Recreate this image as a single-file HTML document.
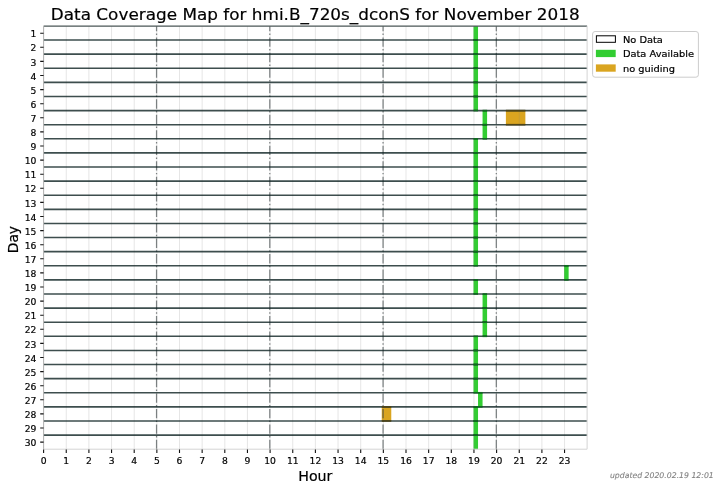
<!DOCTYPE html><html><head><meta charset="utf-8"><title>Data Coverage Map</title><style>html,body{margin:0;padding:0;background:#fff;width:721px;height:490px;overflow:hidden}svg{display:block;filter:blur(0.25px)}text{font-family:"DejaVu Sans","Liberation Sans",sans-serif;fill:#000;stroke:#000;stroke-width:0.2px}</style></head><body>
<svg width="721" height="490" viewBox="0 0 721 490">
<rect width="721" height="490" fill="#fff"/>
<rect x="473.50" y="26.15" width="4.53" height="13.88" fill="#32cd32"/>
<rect x="473.50" y="40.03" width="4.53" height="14.11" fill="#32cd32"/>
<rect x="473.50" y="54.14" width="4.53" height="14.11" fill="#32cd32"/>
<rect x="473.50" y="68.25" width="4.53" height="14.11" fill="#32cd32"/>
<rect x="473.50" y="82.36" width="4.53" height="14.11" fill="#32cd32"/>
<rect x="473.50" y="96.47" width="4.53" height="14.11" fill="#32cd32"/>
<rect x="482.56" y="110.58" width="4.53" height="14.11" fill="#32cd32"/>
<rect x="482.56" y="124.69" width="4.53" height="14.11" fill="#32cd32"/>
<rect x="473.50" y="138.80" width="4.53" height="14.11" fill="#32cd32"/>
<rect x="473.50" y="152.91" width="4.53" height="14.11" fill="#32cd32"/>
<rect x="473.50" y="167.01" width="4.53" height="14.11" fill="#32cd32"/>
<rect x="473.50" y="181.12" width="4.53" height="14.11" fill="#32cd32"/>
<rect x="473.50" y="195.23" width="4.53" height="14.11" fill="#32cd32"/>
<rect x="473.50" y="209.34" width="4.53" height="14.11" fill="#32cd32"/>
<rect x="473.50" y="223.45" width="4.53" height="14.11" fill="#32cd32"/>
<rect x="473.50" y="237.56" width="4.53" height="14.11" fill="#32cd32"/>
<rect x="473.50" y="251.67" width="4.53" height="14.11" fill="#32cd32"/>
<rect x="564.10" y="265.78" width="4.53" height="14.11" fill="#32cd32"/>
<rect x="473.50" y="279.89" width="4.53" height="14.11" fill="#32cd32"/>
<rect x="482.56" y="294.00" width="4.53" height="14.11" fill="#32cd32"/>
<rect x="482.56" y="308.10" width="4.53" height="14.11" fill="#32cd32"/>
<rect x="482.56" y="322.21" width="4.53" height="14.11" fill="#32cd32"/>
<rect x="473.50" y="336.32" width="4.53" height="14.11" fill="#32cd32"/>
<rect x="473.50" y="350.43" width="4.53" height="14.11" fill="#32cd32"/>
<rect x="473.50" y="364.54" width="4.53" height="14.11" fill="#32cd32"/>
<rect x="473.50" y="378.65" width="4.53" height="14.11" fill="#32cd32"/>
<rect x="478.03" y="392.76" width="4.53" height="14.11" fill="#32cd32"/>
<rect x="473.50" y="406.87" width="4.53" height="14.11" fill="#32cd32"/>
<rect x="473.50" y="420.98" width="4.53" height="14.11" fill="#32cd32"/>
<rect x="473.50" y="435.09" width="4.53" height="14.11" fill="#32cd32"/>
<rect x="505.89" y="110.58" width="19.48" height="14.11" fill="#daa520"/>
<rect x="381.76" y="406.87" width="9.51" height="14.11" fill="#daa520"/>
<path d="M43.60 26.15V449.20M66.25 26.15V449.20M88.90 26.15V449.20M111.55 26.15V449.20M134.20 26.15V449.20M156.85 26.15V449.20M179.50 26.15V449.20M202.15 26.15V449.20M224.80 26.15V449.20M247.45 26.15V449.20M270.10 26.15V449.20M292.75 26.15V449.20M315.40 26.15V449.20M338.05 26.15V449.20M360.70 26.15V449.20M383.35 26.15V449.20M406.00 26.15V449.20M428.65 26.15V449.20M451.30 26.15V449.20M473.95 26.15V449.20M496.60 26.15V449.20M519.25 26.15V449.20M541.90 26.15V449.20M564.55 26.15V449.20" stroke="#808080" stroke-opacity="0.2" stroke-width="1" fill="none"/>
<path d="M156.55 449.20V26.15M269.80 449.20V26.15M383.05 449.20V26.15M496.30 449.20V26.15" stroke="#343c3e" stroke-opacity="0.62" stroke-width="1.25" stroke-dasharray="9.34 2.34 1.46 2.34" fill="none"/>
<path d="M43.60 40.03H587.10M43.60 54.14H587.10M43.60 68.25H587.10M43.60 82.36H587.10M43.60 96.47H587.10M43.60 110.58H587.10M43.60 124.69H587.10M43.60 138.80H587.10M43.60 152.91H587.10M43.60 167.01H587.10M43.60 181.12H587.10M43.60 195.23H587.10M43.60 209.34H587.10M43.60 223.45H587.10M43.60 237.56H587.10M43.60 251.67H587.10M43.60 265.78H587.10M43.60 279.89H587.10M43.60 294.00H587.10M43.60 308.10H587.10M43.60 322.21H587.10M43.60 336.32H587.10M43.60 350.43H587.10M43.60 364.54H587.10M43.60 378.65H587.10M43.60 392.76H587.10M43.60 406.87H587.10M43.60 420.98H587.10M43.60 435.09H587.10" stroke="#0c2222" stroke-opacity="0.8" stroke-width="1.6" fill="none"/>
<path d="M43.60 26.15H587.10" stroke="#4a5656" stroke-width="1.4" fill="none"/>
<rect x="473.50" y="39.23" width="4.53" height="1.6" fill="#0e6a1e"/>
<rect x="473.50" y="39.23" width="4.53" height="1.6" fill="#0e6a1e"/>
<rect x="473.50" y="53.34" width="4.53" height="1.6" fill="#0e6a1e"/>
<rect x="473.50" y="53.34" width="4.53" height="1.6" fill="#0e6a1e"/>
<rect x="473.50" y="67.45" width="4.53" height="1.6" fill="#0e6a1e"/>
<rect x="473.50" y="67.45" width="4.53" height="1.6" fill="#0e6a1e"/>
<rect x="473.50" y="81.56" width="4.53" height="1.6" fill="#0e6a1e"/>
<rect x="473.50" y="81.56" width="4.53" height="1.6" fill="#0e6a1e"/>
<rect x="473.50" y="95.67" width="4.53" height="1.6" fill="#0e6a1e"/>
<rect x="473.50" y="95.67" width="4.53" height="1.6" fill="#0e6a1e"/>
<rect x="473.50" y="109.78" width="4.53" height="1.6" fill="#0e6a1e"/>
<rect x="482.56" y="109.78" width="4.53" height="1.6" fill="#0e6a1e"/>
<rect x="482.56" y="123.89" width="4.53" height="1.6" fill="#0e6a1e"/>
<rect x="482.56" y="123.89" width="4.53" height="1.6" fill="#0e6a1e"/>
<rect x="482.56" y="138.00" width="4.53" height="1.6" fill="#0e6a1e"/>
<rect x="473.50" y="138.00" width="4.53" height="1.6" fill="#0e6a1e"/>
<rect x="473.50" y="152.11" width="4.53" height="1.6" fill="#0e6a1e"/>
<rect x="473.50" y="152.11" width="4.53" height="1.6" fill="#0e6a1e"/>
<rect x="473.50" y="166.21" width="4.53" height="1.6" fill="#0e6a1e"/>
<rect x="473.50" y="166.21" width="4.53" height="1.6" fill="#0e6a1e"/>
<rect x="473.50" y="180.32" width="4.53" height="1.6" fill="#0e6a1e"/>
<rect x="473.50" y="180.32" width="4.53" height="1.6" fill="#0e6a1e"/>
<rect x="473.50" y="194.43" width="4.53" height="1.6" fill="#0e6a1e"/>
<rect x="473.50" y="194.43" width="4.53" height="1.6" fill="#0e6a1e"/>
<rect x="473.50" y="208.54" width="4.53" height="1.6" fill="#0e6a1e"/>
<rect x="473.50" y="208.54" width="4.53" height="1.6" fill="#0e6a1e"/>
<rect x="473.50" y="222.65" width="4.53" height="1.6" fill="#0e6a1e"/>
<rect x="473.50" y="222.65" width="4.53" height="1.6" fill="#0e6a1e"/>
<rect x="473.50" y="236.76" width="4.53" height="1.6" fill="#0e6a1e"/>
<rect x="473.50" y="236.76" width="4.53" height="1.6" fill="#0e6a1e"/>
<rect x="473.50" y="250.87" width="4.53" height="1.6" fill="#0e6a1e"/>
<rect x="473.50" y="250.87" width="4.53" height="1.6" fill="#0e6a1e"/>
<rect x="473.50" y="264.98" width="4.53" height="1.6" fill="#0e6a1e"/>
<rect x="564.10" y="264.98" width="4.53" height="1.6" fill="#0e6a1e"/>
<rect x="564.10" y="279.09" width="4.53" height="1.6" fill="#0e6a1e"/>
<rect x="473.50" y="279.09" width="4.53" height="1.6" fill="#0e6a1e"/>
<rect x="473.50" y="293.20" width="4.53" height="1.6" fill="#0e6a1e"/>
<rect x="482.56" y="293.20" width="4.53" height="1.6" fill="#0e6a1e"/>
<rect x="482.56" y="307.30" width="4.53" height="1.6" fill="#0e6a1e"/>
<rect x="482.56" y="307.30" width="4.53" height="1.6" fill="#0e6a1e"/>
<rect x="482.56" y="321.41" width="4.53" height="1.6" fill="#0e6a1e"/>
<rect x="482.56" y="321.41" width="4.53" height="1.6" fill="#0e6a1e"/>
<rect x="482.56" y="335.52" width="4.53" height="1.6" fill="#0e6a1e"/>
<rect x="473.50" y="335.52" width="4.53" height="1.6" fill="#0e6a1e"/>
<rect x="473.50" y="349.63" width="4.53" height="1.6" fill="#0e6a1e"/>
<rect x="473.50" y="349.63" width="4.53" height="1.6" fill="#0e6a1e"/>
<rect x="473.50" y="363.74" width="4.53" height="1.6" fill="#0e6a1e"/>
<rect x="473.50" y="363.74" width="4.53" height="1.6" fill="#0e6a1e"/>
<rect x="473.50" y="377.85" width="4.53" height="1.6" fill="#0e6a1e"/>
<rect x="473.50" y="377.85" width="4.53" height="1.6" fill="#0e6a1e"/>
<rect x="473.50" y="391.96" width="4.53" height="1.6" fill="#0e6a1e"/>
<rect x="478.03" y="391.96" width="4.53" height="1.6" fill="#0e6a1e"/>
<rect x="478.03" y="406.07" width="4.53" height="1.6" fill="#0e6a1e"/>
<rect x="473.50" y="406.07" width="4.53" height="1.6" fill="#0e6a1e"/>
<rect x="473.50" y="420.18" width="4.53" height="1.6" fill="#0e6a1e"/>
<rect x="473.50" y="420.18" width="4.53" height="1.6" fill="#0e6a1e"/>
<rect x="473.50" y="434.29" width="4.53" height="1.6" fill="#0e6a1e"/>
<rect x="473.50" y="434.29" width="4.53" height="1.6" fill="#0e6a1e"/>
<rect x="505.89" y="109.78" width="19.48" height="1.6" fill="#4e4418"/>
<rect x="505.89" y="123.89" width="19.48" height="1.6" fill="#4e4418"/>
<rect x="381.76" y="406.07" width="9.51" height="1.6" fill="#4e4418"/>
<rect x="381.76" y="420.18" width="9.51" height="1.6" fill="#4e4418"/>
<path d="M43.60 26.15V449.20" stroke="#b2b2b2" stroke-width="1" fill="none"/>
<path d="M43.60 449.20H587.10V26.15" stroke="#d4d4d4" stroke-width="1" fill="none"/>
<path d="M40.20 33.20H43.60M40.20 47.30H43.60M40.20 61.40H43.60M40.20 75.50H43.60M40.20 89.60H43.60M40.20 103.70H43.60M40.20 117.80H43.60M40.20 131.90H43.60M40.20 146.00H43.60M40.20 160.10H43.60M40.20 174.20H43.60M40.20 188.30H43.60M40.20 202.40H43.60M40.20 216.50H43.60M40.20 230.60H43.60M40.20 244.70H43.60M40.20 258.80H43.60M40.20 272.90H43.60M40.20 287.00H43.60M40.20 301.10H43.60M40.20 315.20H43.60M40.20 329.30H43.60M40.20 343.40H43.60M40.20 357.50H43.60M40.20 371.60H43.60M40.20 385.70H43.60M40.20 399.80H43.60M40.20 413.90H43.60M40.20 428.00H43.60M40.20 442.10H43.60M43.60 449.50V452.90M66.25 449.50V452.90M88.90 449.50V452.90M111.55 449.50V452.90M134.20 449.50V452.90M156.85 449.50V452.90M179.50 449.50V452.90M202.15 449.50V452.90M224.80 449.50V452.90M247.45 449.50V452.90M270.10 449.50V452.90M292.75 449.50V452.90M315.40 449.50V452.90M338.05 449.50V452.90M360.70 449.50V452.90M383.35 449.50V452.90M406.00 449.50V452.90M428.65 449.50V452.90M451.30 449.50V452.90M473.95 449.50V452.90M496.60 449.50V452.90M519.25 449.50V452.90M541.90 449.50V452.90M564.55 449.50V452.90" stroke="#111" stroke-width="1.1" fill="none"/>
<text transform="translate(36.40 37.35) scale(1 0.87)" font-size="9.2" text-anchor="end">1</text>
<text transform="translate(36.40 51.45) scale(1 0.87)" font-size="9.2" text-anchor="end">2</text>
<text transform="translate(36.40 65.55) scale(1 0.87)" font-size="9.2" text-anchor="end">3</text>
<text transform="translate(36.40 79.65) scale(1 0.87)" font-size="9.2" text-anchor="end">4</text>
<text transform="translate(36.40 93.75) scale(1 0.87)" font-size="9.2" text-anchor="end">5</text>
<text transform="translate(36.40 107.85) scale(1 0.87)" font-size="9.2" text-anchor="end">6</text>
<text transform="translate(36.40 121.95) scale(1 0.87)" font-size="9.2" text-anchor="end">7</text>
<text transform="translate(36.40 136.05) scale(1 0.87)" font-size="9.2" text-anchor="end">8</text>
<text transform="translate(36.40 150.15) scale(1 0.87)" font-size="9.2" text-anchor="end">9</text>
<text transform="translate(36.40 164.25) scale(1 0.87)" font-size="9.2" text-anchor="end">10</text>
<text transform="translate(36.40 178.35) scale(1 0.87)" font-size="9.2" text-anchor="end">11</text>
<text transform="translate(36.40 192.45) scale(1 0.87)" font-size="9.2" text-anchor="end">12</text>
<text transform="translate(36.40 206.55) scale(1 0.87)" font-size="9.2" text-anchor="end">13</text>
<text transform="translate(36.40 220.65) scale(1 0.87)" font-size="9.2" text-anchor="end">14</text>
<text transform="translate(36.40 234.75) scale(1 0.87)" font-size="9.2" text-anchor="end">15</text>
<text transform="translate(36.40 248.85) scale(1 0.87)" font-size="9.2" text-anchor="end">16</text>
<text transform="translate(36.40 262.95) scale(1 0.87)" font-size="9.2" text-anchor="end">17</text>
<text transform="translate(36.40 277.05) scale(1 0.87)" font-size="9.2" text-anchor="end">18</text>
<text transform="translate(36.40 291.15) scale(1 0.87)" font-size="9.2" text-anchor="end">19</text>
<text transform="translate(36.40 305.25) scale(1 0.87)" font-size="9.2" text-anchor="end">20</text>
<text transform="translate(36.40 319.35) scale(1 0.87)" font-size="9.2" text-anchor="end">21</text>
<text transform="translate(36.40 333.45) scale(1 0.87)" font-size="9.2" text-anchor="end">22</text>
<text transform="translate(36.40 347.55) scale(1 0.87)" font-size="9.2" text-anchor="end">23</text>
<text transform="translate(36.40 361.65) scale(1 0.87)" font-size="9.2" text-anchor="end">24</text>
<text transform="translate(36.40 375.75) scale(1 0.87)" font-size="9.2" text-anchor="end">25</text>
<text transform="translate(36.40 389.85) scale(1 0.87)" font-size="9.2" text-anchor="end">26</text>
<text transform="translate(36.40 403.95) scale(1 0.87)" font-size="9.2" text-anchor="end">27</text>
<text transform="translate(36.40 418.05) scale(1 0.87)" font-size="9.2" text-anchor="end">28</text>
<text transform="translate(36.40 432.15) scale(1 0.87)" font-size="9.2" text-anchor="end">29</text>
<text transform="translate(36.40 446.25) scale(1 0.87)" font-size="9.2" text-anchor="end">30</text>
<text transform="translate(43.60 463.80) scale(1 0.87)" font-size="9.2" text-anchor="middle">0</text>
<text transform="translate(66.25 463.80) scale(1 0.87)" font-size="9.2" text-anchor="middle">1</text>
<text transform="translate(88.90 463.80) scale(1 0.87)" font-size="9.2" text-anchor="middle">2</text>
<text transform="translate(111.55 463.80) scale(1 0.87)" font-size="9.2" text-anchor="middle">3</text>
<text transform="translate(134.20 463.80) scale(1 0.87)" font-size="9.2" text-anchor="middle">4</text>
<text transform="translate(156.85 463.80) scale(1 0.87)" font-size="9.2" text-anchor="middle">5</text>
<text transform="translate(179.50 463.80) scale(1 0.87)" font-size="9.2" text-anchor="middle">6</text>
<text transform="translate(202.15 463.80) scale(1 0.87)" font-size="9.2" text-anchor="middle">7</text>
<text transform="translate(224.80 463.80) scale(1 0.87)" font-size="9.2" text-anchor="middle">8</text>
<text transform="translate(247.45 463.80) scale(1 0.87)" font-size="9.2" text-anchor="middle">9</text>
<text transform="translate(270.10 463.80) scale(1 0.87)" font-size="9.2" text-anchor="middle">10</text>
<text transform="translate(292.75 463.80) scale(1 0.87)" font-size="9.2" text-anchor="middle">11</text>
<text transform="translate(315.40 463.80) scale(1 0.87)" font-size="9.2" text-anchor="middle">12</text>
<text transform="translate(338.05 463.80) scale(1 0.87)" font-size="9.2" text-anchor="middle">13</text>
<text transform="translate(360.70 463.80) scale(1 0.87)" font-size="9.2" text-anchor="middle">14</text>
<text transform="translate(383.35 463.80) scale(1 0.87)" font-size="9.2" text-anchor="middle">15</text>
<text transform="translate(406.00 463.80) scale(1 0.87)" font-size="9.2" text-anchor="middle">16</text>
<text transform="translate(428.65 463.80) scale(1 0.87)" font-size="9.2" text-anchor="middle">17</text>
<text transform="translate(451.30 463.80) scale(1 0.87)" font-size="9.2" text-anchor="middle">18</text>
<text transform="translate(473.95 463.80) scale(1 0.87)" font-size="9.2" text-anchor="middle">19</text>
<text transform="translate(496.60 463.80) scale(1 0.87)" font-size="9.2" text-anchor="middle">20</text>
<text transform="translate(519.25 463.80) scale(1 0.87)" font-size="9.2" text-anchor="middle">21</text>
<text transform="translate(541.90 463.80) scale(1 0.87)" font-size="9.2" text-anchor="middle">22</text>
<text transform="translate(564.55 463.80) scale(1 0.87)" font-size="9.2" text-anchor="middle">23</text>
<text transform="translate(315.2 20.0) scale(1 0.93)" font-size="16.85" text-anchor="middle">Data Coverage Map for hmi.B_720s_dconS for November 2018</text>
<text transform="translate(17.9 239.6) rotate(-90) scale(1 0.96)" font-size="13.8" text-anchor="middle">Day</text>
<text x="315.35" y="480.8" font-size="14.2" text-anchor="middle">Hour</text>
<text x="609.9" y="477.9" font-size="7.75" font-style="italic" style="fill:#808080;stroke:#808080;stroke-width:0.1px">updated 2020.02.19 12:01</text>
<rect x="592.6" y="31.5" width="105.8" height="45.7" rx="2.5" fill="#fff" fill-opacity="0.8" stroke="#cccccc" stroke-width="1"/>
<rect x="596.4" y="35.8" width="19" height="6.5" fill="#fff" stroke="#000" stroke-width="1"/>
<rect x="595.9" y="49.8" width="19.8" height="7.3" fill="#32cd32"/>
<rect x="595.9" y="64.4" width="19.8" height="7.3" fill="#daa520"/>
<text transform="translate(622.9 42.8) scale(1 0.91)" font-size="9.85">No Data</text>
<text transform="translate(622.9 57.2) scale(1 0.91)" font-size="9.85">Data Available</text>
<text transform="translate(622.9 71.8) scale(1 0.91)" font-size="9.85">no guiding</text>
</svg></body></html>
